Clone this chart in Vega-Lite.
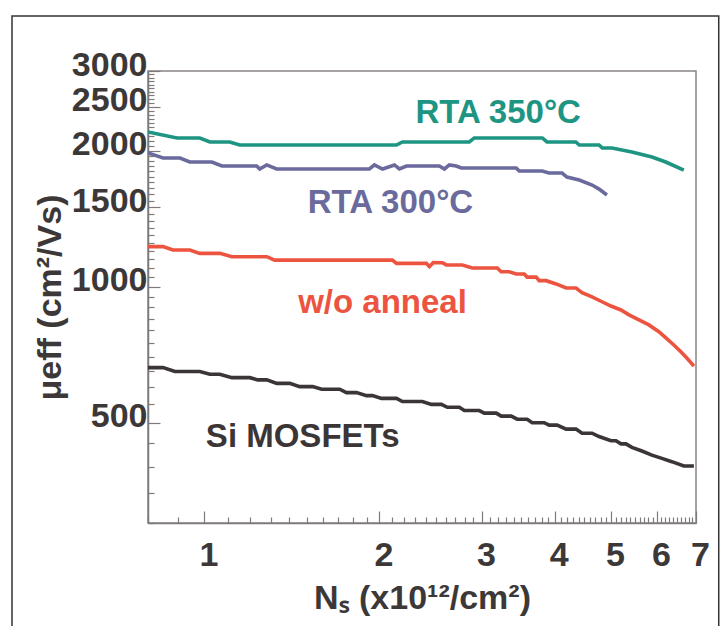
{
  "$schema": "https://vega.github.io/schema/vega-lite/v6.json",
  "autosize": {"type": "none"},
  "width": 548,
  "height": 452,
  "padding": {"left": 148, "top": 71, "right": 31, "bottom": 103},
  "background": "white",
  "config": {
    "view": {"stroke": "#8a8585", "strokeWidth": 1.5},
    "font": "Liberation Sans"
  },
  "datasets": {
    "frame": [{"left": 0.467, "right": 7.659, "top": 3970, "bottom": 150}],
    "curves": [
      {"series": "RTA 350", "ns": 0.800, "mu": 2199}, {"series": "RTA 350", "ns": 0.897, "mu": 2133}, {"series": "RTA 350", "ns": 0.982, "mu": 2133}, {"series": "RTA 350", "ns": 1.022, "mu": 2090}, {"series": "RTA 350", "ns": 1.106, "mu": 2090}, {"series": "RTA 350", "ns": 1.150, "mu": 2058}, {"series": "RTA 350", "ns": 2.139, "mu": 2058}, {"series": "RTA 350", "ns": 2.190, "mu": 2090}, {"series": "RTA 350", "ns": 2.854, "mu": 2090}, {"series": "RTA 350", "ns": 2.910, "mu": 2133}, {"series": "RTA 350", "ns": 3.810, "mu": 2133}, {"series": "RTA 350", "ns": 3.880, "mu": 2090}, {"series": "RTA 350", "ns": 4.350, "mu": 2090}, {"series": "RTA 350", "ns": 4.410, "mu": 2058}, {"series": "RTA 350", "ns": 4.770, "mu": 2058}, {"series": "RTA 350", "ns": 4.830, "mu": 2027}, {"series": "RTA 350", "ns": 5.020, "mu": 2027}, {"series": "RTA 350", "ns": 5.430, "mu": 1986}, {"series": "RTA 350", "ns": 5.880, "mu": 1936}, {"series": "RTA 350", "ns": 6.210, "mu": 1887}, {"series": "RTA 350", "ns": 6.670, "mu": 1811},
      {"series": "RTA 300", "ns": 0.800, "mu": 1976}, {"series": "RTA 300", "ns": 0.849, "mu": 1926}, {"series": "RTA 300", "ns": 0.908, "mu": 1926}, {"series": "RTA 300", "ns": 0.944, "mu": 1887}, {"series": "RTA 300", "ns": 1.030, "mu": 1887}, {"series": "RTA 300", "ns": 1.072, "mu": 1849}, {"series": "RTA 300", "ns": 1.230, "mu": 1849}, {"series": "RTA 300", "ns": 1.245, "mu": 1821}, {"series": "RTA 300", "ns": 1.280, "mu": 1859}, {"series": "RTA 300", "ns": 1.331, "mu": 1821}, {"series": "RTA 300", "ns": 1.922, "mu": 1821}, {"series": "RTA 300", "ns": 1.960, "mu": 1859}, {"series": "RTA 300", "ns": 2.024, "mu": 1821}, {"series": "RTA 300", "ns": 2.122, "mu": 1859}, {"series": "RTA 300", "ns": 2.164, "mu": 1821}, {"series": "RTA 300", "ns": 2.225, "mu": 1849}, {"series": "RTA 300", "ns": 2.535, "mu": 1849}, {"series": "RTA 300", "ns": 2.586, "mu": 1821}, {"series": "RTA 300", "ns": 2.637, "mu": 1859}, {"series": "RTA 300", "ns": 2.710, "mu": 1849}, {"series": "RTA 300", "ns": 2.765, "mu": 1830}, {"series": "RTA 300", "ns": 3.436, "mu": 1830}, {"series": "RTA 300", "ns": 3.477, "mu": 1802}, {"series": "RTA 300", "ns": 3.807, "mu": 1802}, {"series": "RTA 300", "ns": 3.914, "mu": 1784}, {"series": "RTA 300", "ns": 4.120, "mu": 1784}, {"series": "RTA 300", "ns": 4.200, "mu": 1748}, {"series": "RTA 300", "ns": 4.410, "mu": 1721}, {"series": "RTA 300", "ns": 4.640, "mu": 1678}, {"series": "RTA 300", "ns": 4.770, "mu": 1644}, {"series": "RTA 300", "ns": 4.920, "mu": 1595},
      {"series": "w/o anneal", "ns": 0.800, "mu": 1226}, {"series": "w/o anneal", "ns": 0.849, "mu": 1226}, {"series": "w/o anneal", "ns": 0.883, "mu": 1205}, {"series": "w/o anneal", "ns": 0.944, "mu": 1205}, {"series": "w/o anneal", "ns": 0.982, "mu": 1185}, {"series": "w/o anneal", "ns": 1.063, "mu": 1185}, {"series": "w/o anneal", "ns": 1.115, "mu": 1165}, {"series": "w/o anneal", "ns": 1.280, "mu": 1165}, {"series": "w/o anneal", "ns": 1.321, "mu": 1145}, {"series": "w/o anneal", "ns": 2.105, "mu": 1145}, {"series": "w/o anneal", "ns": 2.139, "mu": 1126}, {"series": "w/o anneal", "ns": 2.408, "mu": 1126}, {"series": "w/o anneal", "ns": 2.437, "mu": 1107}, {"series": "w/o anneal", "ns": 2.475, "mu": 1131}, {"series": "w/o anneal", "ns": 2.565, "mu": 1130}, {"series": "w/o anneal", "ns": 2.606, "mu": 1117}, {"series": "w/o anneal", "ns": 2.776, "mu": 1117}, {"series": "w/o anneal", "ns": 2.888, "mu": 1100}, {"series": "w/o anneal", "ns": 3.187, "mu": 1100}, {"series": "w/o anneal", "ns": 3.238, "mu": 1079}, {"series": "w/o anneal", "ns": 3.342, "mu": 1079}, {"series": "w/o anneal", "ns": 3.436, "mu": 1067}, {"series": "w/o anneal", "ns": 3.546, "mu": 1067}, {"series": "w/o anneal", "ns": 3.588, "mu": 1050}, {"series": "w/o anneal", "ns": 3.718, "mu": 1050}, {"series": "w/o anneal", "ns": 3.763, "mu": 1031}, {"series": "w/o anneal", "ns": 3.868, "mu": 1031}, {"series": "w/o anneal", "ns": 4.024, "mu": 1014}, {"series": "w/o anneal", "ns": 4.186, "mu": 993}, {"series": "w/o anneal", "ns": 4.354, "mu": 993}, {"series": "w/o anneal", "ns": 4.459, "mu": 970}, {"series": "w/o anneal", "ns": 4.639, "mu": 949}, {"series": "w/o anneal", "ns": 4.825, "mu": 926}, {"series": "w/o anneal", "ns": 5.000, "mu": 906}, {"series": "w/o anneal", "ns": 5.201, "mu": 888}, {"series": "w/o anneal", "ns": 5.369, "mu": 866}, {"series": "w/o anneal", "ns": 5.585, "mu": 844}, {"series": "w/o anneal", "ns": 5.809, "mu": 823}, {"series": "w/o anneal", "ns": 6.043, "mu": 795}, {"series": "w/o anneal", "ns": 6.213, "mu": 770}, {"series": "w/o anneal", "ns": 6.412, "mu": 743}, {"series": "w/o anneal", "ns": 6.593, "mu": 718}, {"series": "w/o anneal", "ns": 6.750, "mu": 695}, {"series": "w/o anneal", "ns": 6.942, "mu": 667},
      {"series": "Si", "ns": 0.800, "mu": 662}, {"series": "Si", "ns": 0.849, "mu": 662}, {"series": "Si", "ns": 0.890, "mu": 649}, {"series": "Si", "ns": 0.982, "mu": 649}, {"series": "Si", "ns": 1.022, "mu": 640}, {"series": "Si", "ns": 1.063, "mu": 640}, {"series": "Si", "ns": 1.115, "mu": 629}, {"series": "Si", "ns": 1.197, "mu": 629}, {"series": "Si", "ns": 1.235, "mu": 622}, {"series": "Si", "ns": 1.280, "mu": 622}, {"series": "Si", "ns": 1.332, "mu": 611}, {"series": "Si", "ns": 1.402, "mu": 611}, {"series": "Si", "ns": 1.458, "mu": 601}, {"series": "Si", "ns": 1.535, "mu": 601}, {"series": "Si", "ns": 1.591, "mu": 593}, {"series": "Si", "ns": 1.708, "mu": 593}, {"series": "Si", "ns": 1.755, "mu": 583}, {"series": "Si", "ns": 1.826, "mu": 583}, {"series": "Si", "ns": 1.900, "mu": 574}, {"series": "Si", "ns": 1.945, "mu": 574}, {"series": "Si", "ns": 2.016, "mu": 566}, {"series": "Si", "ns": 2.139, "mu": 566}, {"series": "Si", "ns": 2.190, "mu": 557}, {"series": "Si", "ns": 2.370, "mu": 557}, {"series": "Si", "ns": 2.456, "mu": 549}, {"series": "Si", "ns": 2.555, "mu": 549}, {"series": "Si", "ns": 2.616, "mu": 541}, {"series": "Si", "ns": 2.743, "mu": 541}, {"series": "Si", "ns": 2.798, "mu": 532}, {"series": "Si", "ns": 2.969, "mu": 532}, {"series": "Si", "ns": 3.028, "mu": 525}, {"series": "Si", "ns": 3.175, "mu": 525}, {"series": "Si", "ns": 3.238, "mu": 517}, {"series": "Si", "ns": 3.369, "mu": 517}, {"series": "Si", "ns": 3.449, "mu": 509}, {"series": "Si", "ns": 3.588, "mu": 509}, {"series": "Si", "ns": 3.660, "mu": 500}, {"series": "Si", "ns": 3.838, "mu": 500}, {"series": "Si", "ns": 3.914, "mu": 494}, {"series": "Si", "ns": 4.040, "mu": 494}, {"series": "Si", "ns": 4.186, "mu": 484}, {"series": "Si", "ns": 4.354, "mu": 484}, {"series": "Si", "ns": 4.459, "mu": 474}, {"series": "Si", "ns": 4.639, "mu": 474}, {"series": "Si", "ns": 4.769, "mu": 466}, {"series": "Si", "ns": 5.000, "mu": 456}, {"series": "Si", "ns": 5.100, "mu": 456}, {"series": "Si", "ns": 5.201, "mu": 449}, {"series": "Si", "ns": 5.305, "mu": 449}, {"series": "Si", "ns": 5.432, "mu": 441}, {"series": "Si", "ns": 5.651, "mu": 433}, {"series": "Si", "ns": 5.878, "mu": 424}, {"series": "Si", "ns": 6.115, "mu": 417}, {"series": "Si", "ns": 6.361, "mu": 410}, {"series": "Si", "ns": 6.671, "mu": 401}, {"series": "Si", "ns": 6.942, "mu": 401}
    ],
    "labels": [
      {"series": "RTA 350", "text": "RTA 350°C", "ns": 3.2, "mu": 2301},
      {"series": "RTA 300", "text": "RTA 300°C", "ns": 2.089, "mu": 1455},
      {"series": "w/o anneal", "text": "w/o anneal", "ns": 2.024, "mu": 874},
      {"series": "Si", "text": "Si MOSFETs", "ns": 1.476, "mu": 442}
    ]
  },
  "layer": [
    {
      "data": {"name": "frame"},
      "mark": {"type": "rect", "filled": false, "fill": null, "stroke": "#333333", "strokeWidth": 1.5, "clip": false},
      "encoding": {
        "x": {"field": "left", "type": "quantitative", "scale": {"type": "log", "domain": [0.8, 7], "nice": false}},
        "x2": {"field": "right"},
        "y": {"field": "top", "type": "quantitative", "scale": {"type": "log", "domain": [300, 3000], "nice": false}},
        "y2": {"field": "bottom"}
      }
    },
    {
      "data": {"name": "curves"},
      "mark": {"type": "line", "strokeWidth": 3.6, "clip": true},
      "encoding": {
        "x": {
          "field": "ns", "type": "quantitative",
          "scale": {"type": "log", "domain": [0.8, 7], "nice": false},
          "axis": {
            "title": "Nₛ (x10¹²/cm²)",
            "titleFont": "Liberation Sans", "titleFontSize": 34, "titleFontWeight": "bold", "titleColor": "#3d3838",
            "titlePadding": 3,
            "values": [0.8, 0.9, 1, 1.1, 1.2, 1.3, 1.4, 1.5, 1.6, 1.7, 1.8, 1.9, 2, 2.1, 2.2, 2.3, 2.4, 2.5, 2.6, 2.7, 2.8, 2.9, 3, 3.1, 3.2, 3.3, 3.4, 3.5, 3.6, 3.7, 3.8, 3.9, 4, 4.1, 4.2, 4.3, 4.4, 4.5, 4.6, 4.7, 4.8, 4.9, 5, 5.1, 5.2, 5.3, 5.4, 5.5, 5.6, 5.7, 5.8, 5.9, 6, 6.1, 6.2, 6.3, 6.4, 6.5, 6.6, 6.7, 6.8, 6.9, 7],
            "labelExpr": "datum.value % 1 === 0 ? datum.value : ''",
            "labelFont": "Liberation Sans", "labelFontSize": 34, "labelFontWeight": "bold", "labelColor": "#3d3838",
            "labelOverlap": false, "labelFlush": false, "labelBound": false,
            "labelPadding": 27, "labelOffset": 4,
            "tickSize": {"condition": {"test": "datum.value % 1 === 0", "value": -12}, "value": -6},
            "tickColor": "#7f7a7a", "tickWidth": 1.2,
            "domainColor": "#7f7a7a", "domainWidth": 1.5,
            "grid": false
          }
        },
        "y": {
          "field": "mu", "type": "quantitative",
          "scale": {"type": "log", "domain": [300, 3000], "nice": false},
          "axis": {
            "title": "μeff (cm²/Vs)",
            "titleFont": "Liberation Sans", "titleFontSize": 34, "titleFontWeight": "bold", "titleColor": "#3d3838",
            "titlePadding": 4,
            "values": [300, 350, 400, 450, 500, 550, 600, 650, 700, 750, 800, 850, 900, 950, 1000, 1050, 1100, 1150, 1200, 1250, 1300, 1350, 1400, 1450, 1500, 1550, 1600, 1650, 1700, 1750, 1800, 1850, 1900, 1950, 2000, 2050, 2100, 2150, 2200, 2250, 2300, 2350, 2400, 2450, 2500, 2550, 2600, 2650, 2700, 2750, 2800, 2850, 2900, 2950, 3000],
            "labelExpr": "datum.value % 500 === 0 ? datum.value : ''",
            "labelFont": "Liberation Sans", "labelFontSize": 34, "labelFontWeight": "bold", "labelColor": "#3d3838",
            "labelOverlap": false, "labelFlush": false, "labelBound": false,
            "labelPadding": 13, "labelOffset": -6,
            "tickSize": {"condition": {"test": "datum.value % 500 === 0", "value": -12}, "value": -6},
            "tickColor": "#7f7a7a", "tickWidth": 1.2,
            "domainColor": "#7f7a7a", "domainWidth": 1.5,
            "grid": false
          }
        },
        "color": {
          "field": "series", "type": "nominal",
          "scale": {"domain": ["RTA 350", "RTA 300", "w/o anneal", "Si"], "range": ["#1d9582", "#6a6a9c", "#ec5440", "#3b3535"]},
          "legend": null
        },
        "detail": {"field": "series"}
      }
    },
    {
      "data": {"name": "labels"},
      "mark": {"type": "text", "font": "Liberation Sans", "fontSize": 33, "fontWeight": "bold", "align": "center", "baseline": "alphabetic"},
      "encoding": {
        "x": {"field": "ns", "type": "quantitative"},
        "y": {"field": "mu", "type": "quantitative"},
        "text": {"field": "text"},
        "color": {"field": "series", "type": "nominal", "legend": null}
      }
    }
  ]
}
